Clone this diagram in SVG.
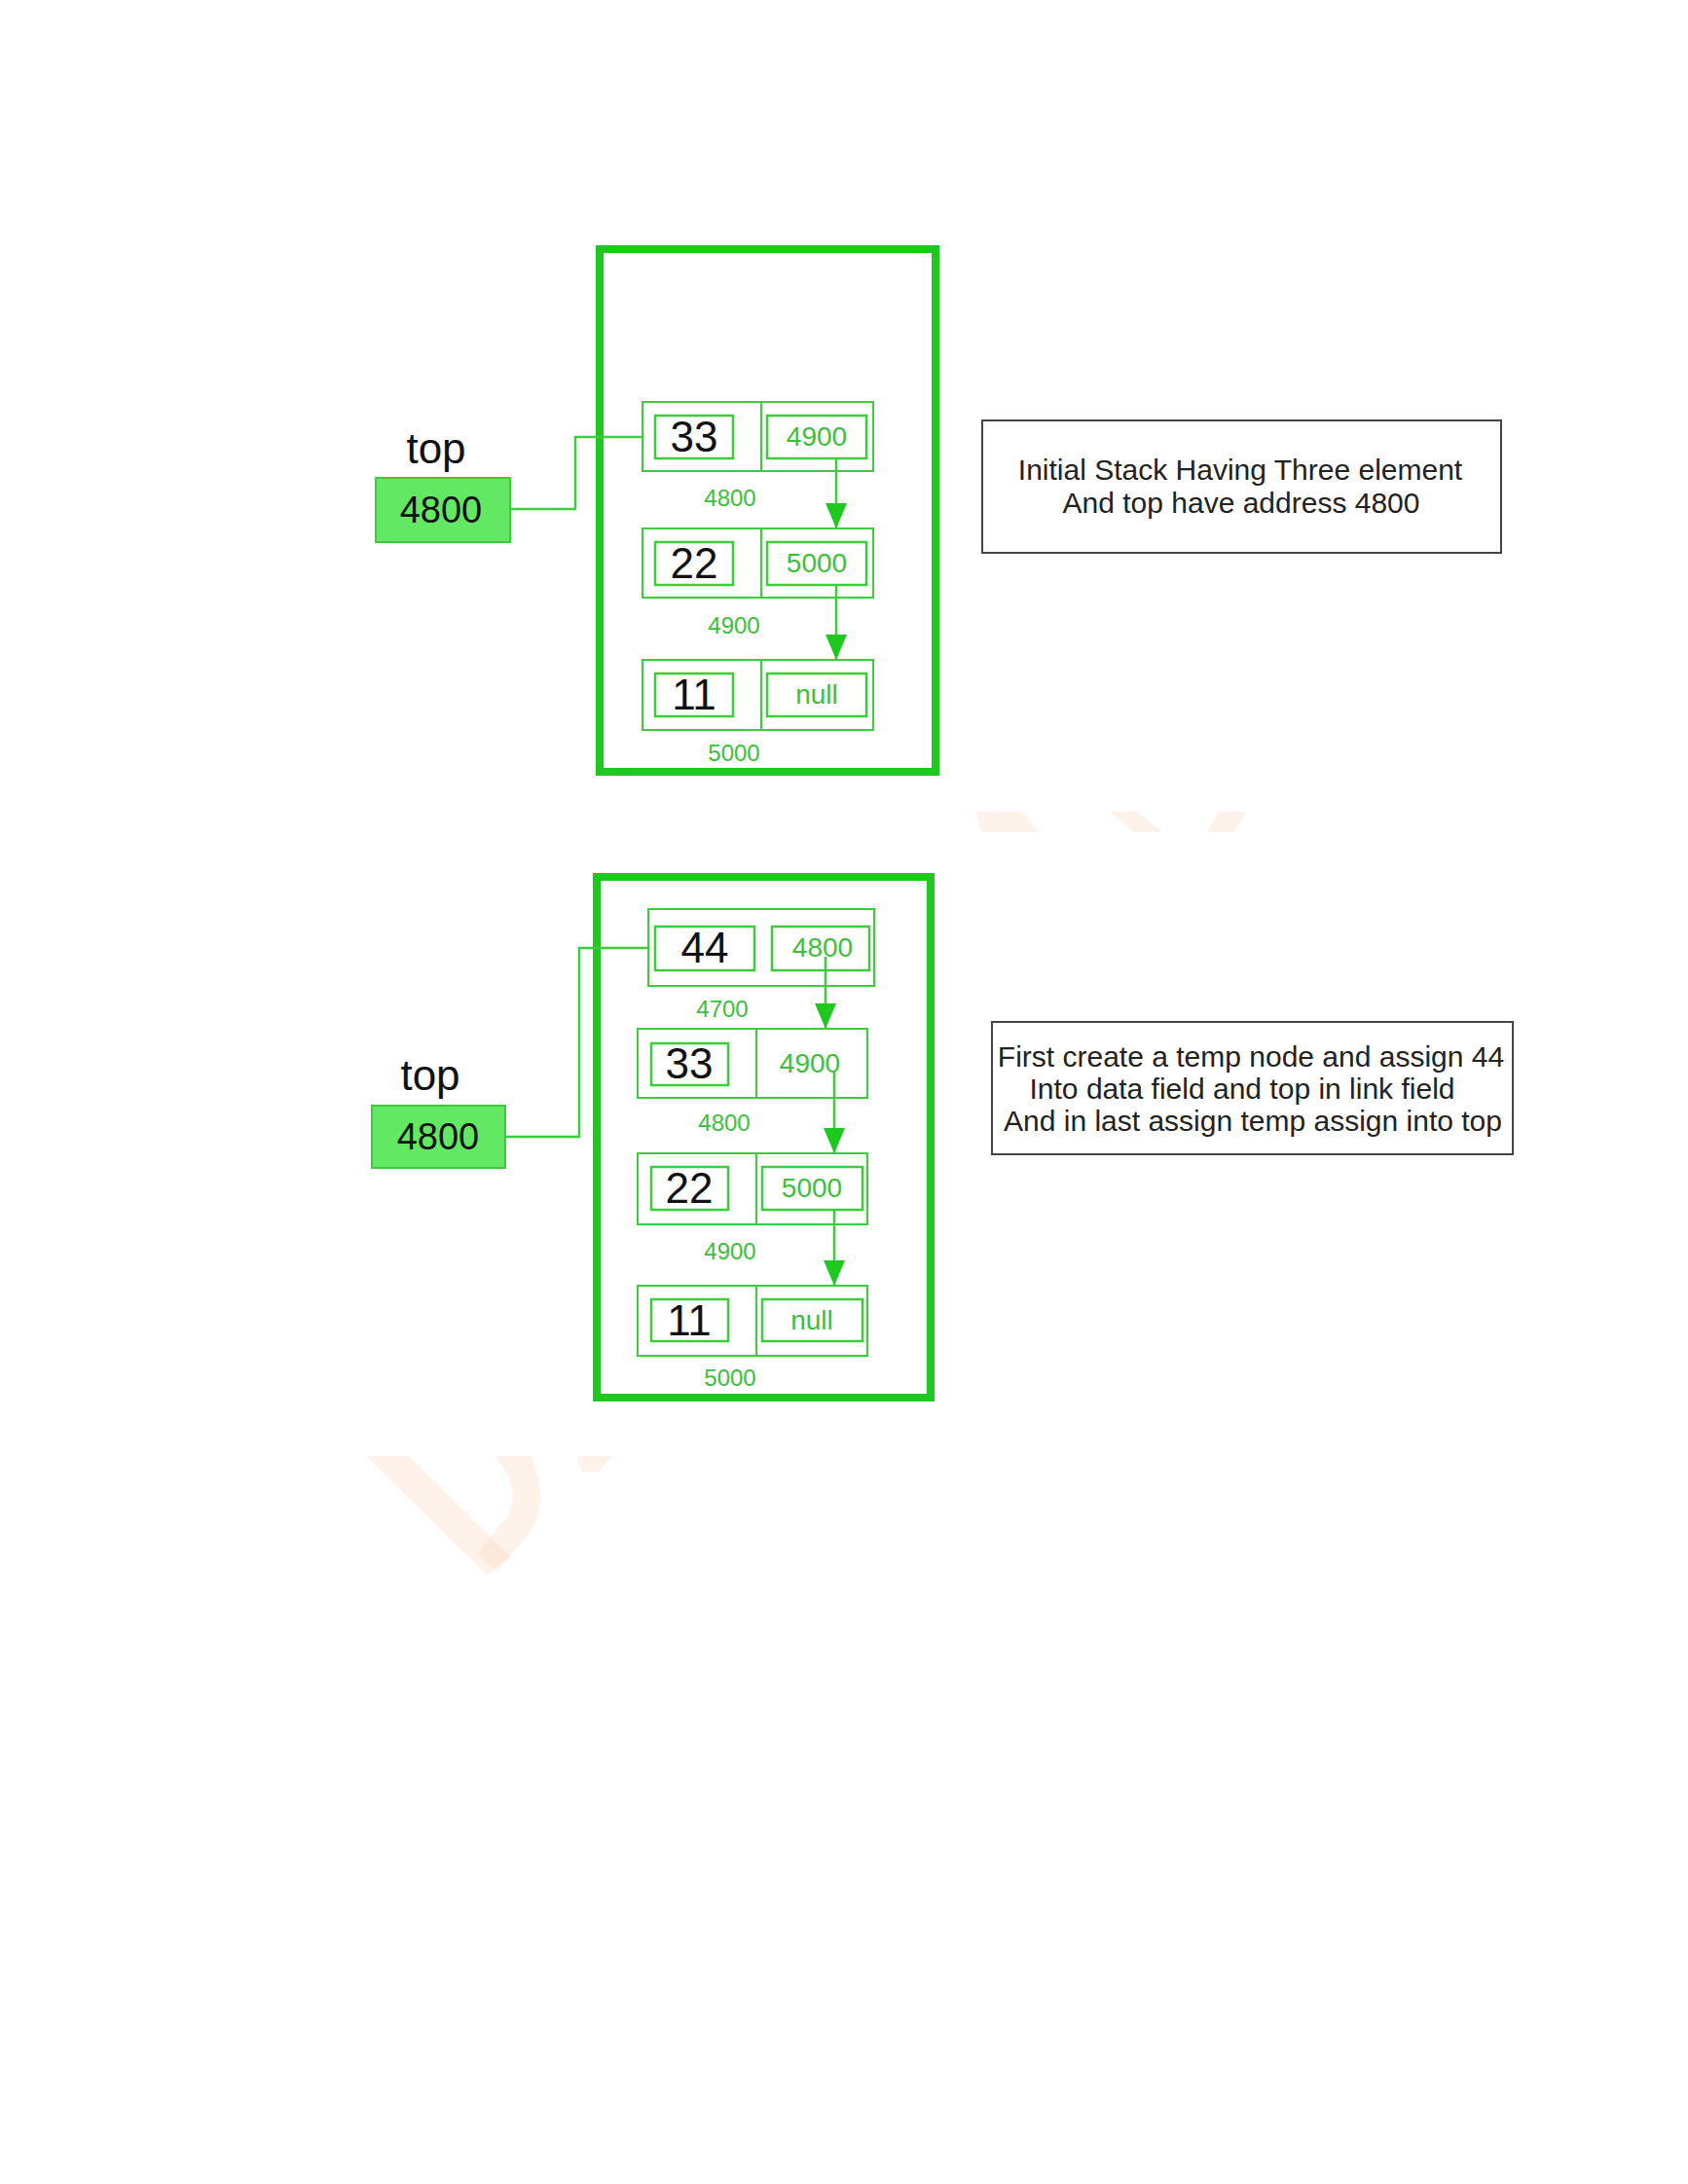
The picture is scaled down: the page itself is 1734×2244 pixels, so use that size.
<svg xmlns="http://www.w3.org/2000/svg" width="1734" height="2244" viewBox="0 0 1734 2244">
<style>
.frame{fill:none;stroke:#1fc81f;stroke-width:8}
.node{fill:#ffffff;stroke:#3ccc3c;stroke-width:2}
.inner{fill:none;stroke:#3ccc3c;stroke-width:2.5}
.div{stroke:#3ccc3c;stroke-width:2}
.top{fill:#62e862;stroke:#40c840;stroke-width:2}
.conn{fill:none;stroke:#3ccc3c;stroke-width:2.5}
.data{font-family:"Liberation Sans",Arial,sans-serif;font-size:44px;fill:#111;text-anchor:middle}
.link{font-family:"Liberation Sans",Arial,sans-serif;font-size:28px;fill:#3cc03c;text-anchor:middle}
.addr{font-family:"Liberation Sans",Arial,sans-serif;font-size:24px;fill:#3cc03c;text-anchor:middle}
.lbl{font-family:"Liberation Sans",Arial,sans-serif;font-size:44px;fill:#111;text-anchor:middle}
.val{font-family:"Liberation Sans",Arial,sans-serif;font-size:38px;fill:#111;text-anchor:middle}
.note{fill:#fff;stroke:#444;stroke-width:2}
.ntxt{font-family:"Liberation Sans",Arial,sans-serif;font-size:30px;fill:#222;text-anchor:middle}
.wm{fill:#fbd9c2;opacity:0.35}
</style>
<defs>
<marker id="ah" markerUnits="userSpaceOnUse" markerWidth="26" markerHeight="22" refX="26" refY="11" orient="auto" viewBox="0 0 26 22">
<path d="M0,0 L26,11 L0,22 z" fill="#1fc81f"/>
</marker>
</defs>
<rect width="1734" height="2244" fill="#ffffff"/>

<!-- faint watermark -->
<g id="watermark">
<path class="wm" d="M1003,834 L1050,834 L1067,855 L1008,855 z"/>
<path class="wm" d="M1140,834 L1168,834 L1194,855 L1165,855 z"/>
<path class="wm" d="M1252,834 L1280,834 L1268,855 L1240,855 z"/>
<path class="wm" d="M376,1496 L420,1496 L525,1600 L500,1618 z"/>
<path class="wm" d="M508,1496 L545,1496 C560,1530 558,1560 540,1580 L510,1614 L490,1596 L520,1560 C532,1540 528,1520 508,1496 z"/>
<path class="wm" d="M592,1496 L628,1496 L615,1512 L598,1512 z"/>
</g>

<!-- ===== Diagram 1 ===== -->
<g id="stack1">
<rect class="frame" x="616" y="256" width="345" height="537"/>
</g>

<g id="top1">
<text class="lbl" x="448" y="476">top</text>
<rect class="top" x="386" y="491" width="138" height="66"/>
<text class="val" x="453" y="537">4800</text>
</g>

<g id="s1n33">
<rect class="node" x="660" y="413" width="237" height="71"/>
<line class="div" x1="782" y1="413" x2="782" y2="484"/>
<rect class="inner" x="673" y="427" width="80" height="44"/>
<rect class="inner" x="788" y="427" width="102" height="44"/>
<text class="data" x="713" y="464">33</text>
<text class="link" x="839" y="458">4900</text>
<text class="addr" x="750" y="520">4800</text>
</g>

<g id="s1n22">
<rect class="node" x="660" y="543" width="237" height="71"/>
<line class="div" x1="782" y1="543" x2="782" y2="614"/>
<rect class="inner" x="673" y="557" width="80" height="44"/>
<rect class="inner" x="788" y="557" width="102" height="44"/>
<text class="data" x="713" y="594">22</text>
<text class="link" x="839" y="588">5000</text>
<text class="addr" x="754" y="651">4900</text>
</g>

<g id="s1n11">
<rect class="node" x="660" y="678" width="237" height="72"/>
<line class="div" x1="782" y1="678" x2="782" y2="750"/>
<rect class="inner" x="673" y="692" width="80" height="44"/>
<rect class="inner" x="788" y="692" width="102" height="44"/>
<text class="data" x="713" y="729">11</text>
<text class="link" x="839" y="723">null</text>
<text class="addr" x="754" y="782">5000</text>
</g>

<g id="note1">
<rect class="note" x="1009" y="432" width="533" height="136"/>
<text class="ntxt" x="1274" y="493">Initial Stack Having Three element</text>
<text class="ntxt" x="1275" y="527">And top have address 4800</text>
</g>

<!-- ===== Diagram 2 ===== -->
<g id="stack2">
<rect class="frame" x="613" y="901" width="343" height="535"/>
</g>

<g id="top2">
<text class="lbl" x="442" y="1120">top</text>
<rect class="top" x="382" y="1136" width="137" height="64"/>
<text class="val" x="450" y="1181">4800</text>
</g>

<g id="s2n44">
<rect class="node" x="666" y="934" width="232" height="79"/>
<rect class="inner" x="673" y="952" width="102" height="45"/>
<rect class="inner" x="793" y="952" width="100" height="45"/>
<text class="data" x="724" y="989">44</text>
<text class="link" x="845" y="983">4800</text>
<text class="addr" x="742" y="1045">4700</text>
</g>

<g id="s2n33">
<rect class="node" x="655" y="1057" width="236" height="71"/>
<line class="div" x1="777" y1="1057" x2="777" y2="1128"/>
<rect class="inner" x="669" y="1072" width="79" height="43"/>
<text class="data" x="708" y="1108">33</text>
<text class="link" x="832" y="1102">4900</text>
<text class="addr" x="744" y="1162">4800</text>
</g>

<g id="s2n22">
<rect class="node" x="655" y="1185" width="236" height="73"/>
<line class="div" x1="777" y1="1185" x2="777" y2="1258"/>
<rect class="inner" x="669" y="1199" width="79" height="44"/>
<rect class="inner" x="783" y="1199" width="103" height="44"/>
<text class="data" x="708" y="1236">22</text>
<text class="link" x="834" y="1230">5000</text>
<text class="addr" x="750" y="1294">4900</text>
</g>

<g id="s2n11">
<rect class="node" x="655" y="1321" width="236" height="72"/>
<line class="div" x1="777" y1="1321" x2="777" y2="1393"/>
<rect class="inner" x="669" y="1335" width="79" height="43"/>
<rect class="inner" x="783" y="1335" width="103" height="43"/>
<text class="data" x="708" y="1372">11</text>
<text class="link" x="834" y="1366">null</text>
<text class="addr" x="750" y="1424">5000</text>
</g>

<g id="note2">
<rect class="note" x="1019" y="1050" width="535" height="136"/>
<text class="ntxt" x="1285" y="1096">First create a temp node and assign 44</text>
<text class="ntxt" x="1276" y="1129">Into data field and top in link field</text>
<text class="ntxt" x="1287" y="1162">And in last assign temp assign into top</text>
</g>

<!-- connectors -->
<g id="connectors">
<path class="conn" d="M524,523 H591 V449 H660"/>
<line class="conn" x1="859" y1="471" x2="859" y2="543" marker-end="url(#ah)"/>
<line class="conn" x1="859" y1="601" x2="859" y2="678" marker-end="url(#ah)"/>
<path class="conn" d="M519,1168 H595 V974 H666"/>
<line class="conn" x1="848" y1="983" x2="848" y2="1057" marker-end="url(#ah)"/>
<line class="conn" x1="857" y1="1100" x2="857" y2="1185" marker-end="url(#ah)"/>
<line class="conn" x1="857" y1="1243" x2="857" y2="1321" marker-end="url(#ah)"/>
</g>
</svg>
